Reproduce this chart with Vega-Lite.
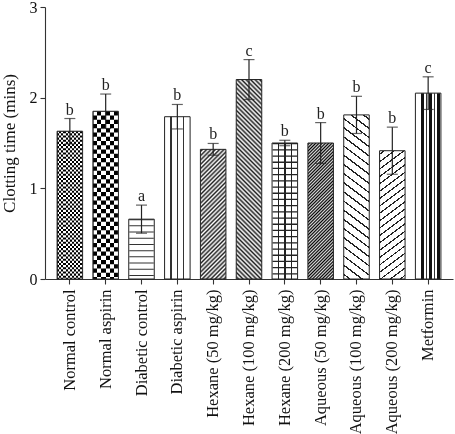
{
"$schema":"https://vega.github.io/schema/vega-lite/v6.json",
"width":408,"height":272,
"autosize":{"type":"none"},
"padding":{"left":45,"top":7,"right":2,"bottom":155},
"background":"white",
"config":{"view":{"stroke":null},
"axis":{"labelFont":"Liberation Serif","titleFont":"Liberation Serif","labelColor":"#111","titleColor":"#111","domainColor":"#333","tickColor":"#333","domainWidth":1.1,"tickWidth":1.1,"tickSize":5,"grid":false}},
"data":{"values":[
{"g":"Normal control","m":1.63,"lo":1.49,"hi":1.77,"lab":"b","p":"nc"},
{"g":"Normal aspirin","m":1.85,"lo":1.66,"hi":2.04,"lab":"b","p":"na"},
{"g":"Diabetic control","m":0.66,"lo":0.505,"hi":0.815,"lab":"a","p":"dc"},
{"g":"Diabetic aspirin","m":1.79,"lo":1.655,"hi":1.925,"lab":"b","p":"da"},
{"g":"Hexane (50 mg/kg)","m":1.43,"lo":1.365,"hi":1.495,"lab":"b","p":"h50"},
{"g":"Hexane (100 mg/kg)","m":2.2,"lo":1.98,"hi":2.42,"lab":"c","p":"h100"},
{"g":"Hexane (200 mg/kg)","m":1.5,"lo":1.47,"hi":1.53,"lab":"b","p":"h200"},
{"g":"Aqueous (50 mg/kg)","m":1.5,"lo":1.275,"hi":1.725,"lab":"b","p":"a50"},
{"g":"Aqueous (100 mg/kg)","m":1.81,"lo":1.605,"hi":2.015,"lab":"b","p":"a100"},
{"g":"Aqueous (200 mg/kg)","m":1.415,"lo":1.155,"hi":1.675,"lab":"b","p":"a200"},
{"g":"Metformin","m":2.05,"lo":1.87,"hi":2.23,"lab":"c","p":"met"}
]},
"encoding":{"x":{"field":"g","type":"nominal","sort":null,"scale":{"paddingInner":0.288,"paddingOuter":0.3375},
"axis":{"title":null,"labelAngle":-90,"labelFontSize":16.5,"labelPadding":5}}},
"layer":[
{"mark":{"type":"bar","fill":"white","strokeWidth":0},
"encoding":{"y":{"field":"m","type":"quantitative","scale":{"domain":[0,3]},"title":"Clotting time (mins)",
"axis":{"values":[0,1,2,3],"format":"d","labelFontSize":16,"titleFontSize":17,"titleFontWeight":"normal","labelPadding":3,"titlePadding":11}}}},

{"transform":[{"filter":"datum.p==='nc'"}],
"mark":{"type":"bar","strokeWidth":0,"fill":{"gradient":"linear","x1":0,"y1":0,"x2":1,"y2":0,"stops":[
{"offset":0,"color":"#000"},{"offset":0.0833,"color":"#000"},{"offset":0.0833,"color":"#fff"},{"offset":0.1667,"color":"#fff"},{"offset":0.1667,"color":"#000"},{"offset":0.25,"color":"#000"},{"offset":0.25,"color":"#fff"},{"offset":0.3333,"color":"#fff"},{"offset":0.3333,"color":"#000"},{"offset":0.4167,"color":"#000"},{"offset":0.4167,"color":"#fff"},{"offset":0.5,"color":"#fff"},{"offset":0.5,"color":"#000"},{"offset":0.5833,"color":"#000"},{"offset":0.5833,"color":"#fff"},{"offset":0.6667,"color":"#fff"},{"offset":0.6667,"color":"#000"},{"offset":0.75,"color":"#000"},{"offset":0.75,"color":"#fff"},{"offset":0.8333,"color":"#fff"},{"offset":0.8333,"color":"#000"},{"offset":0.9167,"color":"#000"},{"offset":0.9167,"color":"#fff"},{"offset":1,"color":"#fff"}]}},
"encoding":{"y":{"field":"m","type":"quantitative","title":"Clotting time (mins)"}}},
{"transform":[{"filter":"datum.p==='nc'"}],
"mark":{"type":"rule","stroke":"#fff","strokeWidth":24.5,"strokeCap":"butt","strokeDash":[2.125,2.125],"blend":"difference"},
"encoding":{"y":{"field":"m","type":"quantitative","title":"Clotting time (mins)"},"y2":{"datum":0}}},

{"transform":[{"filter":"datum.p==='na'"}],
"mark":{"type":"bar","strokeWidth":0,"fill":{"gradient":"linear","x1":0,"y1":0,"x2":1,"y2":0,"stops":[
{"offset":0,"color":"#000"},{"offset":0.1667,"color":"#000"},{"offset":0.1667,"color":"#fff"},{"offset":0.3333,"color":"#fff"},{"offset":0.3333,"color":"#000"},{"offset":0.5,"color":"#000"},{"offset":0.5,"color":"#fff"},{"offset":0.6667,"color":"#fff"},{"offset":0.6667,"color":"#000"},{"offset":0.8333,"color":"#000"},{"offset":0.8333,"color":"#fff"},{"offset":1,"color":"#fff"}]}},
"encoding":{"y":{"field":"m","type":"quantitative","title":"Clotting time (mins)"}}},
{"transform":[{"filter":"datum.p==='na'"}],
"mark":{"type":"rule","stroke":"#fff","strokeWidth":24.5,"strokeCap":"butt","strokeDash":[4.25,4.25],"blend":"difference"},
"encoding":{"y":{"field":"m","type":"quantitative","title":"Clotting time (mins)"},"y2":{"datum":0}}},

{"transform":[{"filter":"datum.p==='dc'"}],
"mark":{"type":"rule","stroke":"#333","strokeWidth":24.5,"strokeCap":"butt","strokeDash":[1,5.2]},
"encoding":{"y":{"field":"m","type":"quantitative","title":"Clotting time (mins)"},"y2":{"datum":0}}},

{"transform":[{"filter":"datum.p==='da'"}],
"mark":{"type":"bar","strokeWidth":0,"fill":{"gradient":"linear","x1":0,"y1":0,"x2":1,"y2":0,"stops":[
{"offset":0,"color":"#fff"},{"offset":0.228,"color":"#fff"},{"offset":0.228,"color":"#333"},{"offset":0.272,"color":"#333"},{"offset":0.272,"color":"#fff"},{"offset":0.478,"color":"#fff"},{"offset":0.478,"color":"#333"},{"offset":0.522,"color":"#333"},{"offset":0.522,"color":"#fff"},{"offset":0.728,"color":"#fff"},{"offset":0.728,"color":"#333"},{"offset":0.772,"color":"#333"},{"offset":0.772,"color":"#fff"},{"offset":1,"color":"#fff"}]}},
"encoding":{"y":{"field":"m","type":"quantitative","title":"Clotting time (mins)"}}},

{"transform":[{"filter":"datum.p==='h50'"}],
"mark":{"type":"bar","strokeWidth":0,"fill":{"gradient":"linear","x1":0,"y1":0,"x2":0.2267,"y2":1.15215,"stops":[
{"offset":0,"color":"#fff"},{"offset":0.0139,"color":"#222"},{"offset":0.0278,"color":"#fff"},{"offset":0.0417,"color":"#222"},{"offset":0.0556,"color":"#fff"},{"offset":0.0694,"color":"#222"},{"offset":0.0833,"color":"#fff"},{"offset":0.0972,"color":"#222"},{"offset":0.1111,"color":"#fff"},{"offset":0.125,"color":"#222"},{"offset":0.1389,"color":"#fff"},{"offset":0.1528,"color":"#222"},{"offset":0.1667,"color":"#fff"},{"offset":0.1806,"color":"#222"},{"offset":0.1944,"color":"#fff"},{"offset":0.2083,"color":"#222"},{"offset":0.2222,"color":"#fff"},{"offset":0.2361,"color":"#222"},{"offset":0.25,"color":"#fff"},{"offset":0.2639,"color":"#222"},{"offset":0.2778,"color":"#fff"},{"offset":0.2917,"color":"#222"},{"offset":0.3056,"color":"#fff"},{"offset":0.3194,"color":"#222"},{"offset":0.3333,"color":"#fff"},{"offset":0.3472,"color":"#222"},{"offset":0.3611,"color":"#fff"},{"offset":0.375,"color":"#222"},{"offset":0.3889,"color":"#fff"},{"offset":0.4028,"color":"#222"},{"offset":0.4167,"color":"#fff"},{"offset":0.4306,"color":"#222"},{"offset":0.4444,"color":"#fff"},{"offset":0.4583,"color":"#222"},{"offset":0.4722,"color":"#fff"},{"offset":0.4861,"color":"#222"},{"offset":0.5,"color":"#fff"},{"offset":0.5139,"color":"#222"},{"offset":0.5278,"color":"#fff"},{"offset":0.5417,"color":"#222"},{"offset":0.5556,"color":"#fff"},{"offset":0.5694,"color":"#222"},{"offset":0.5833,"color":"#fff"},{"offset":0.5972,"color":"#222"},{"offset":0.6111,"color":"#fff"},{"offset":0.625,"color":"#222"},{"offset":0.6389,"color":"#fff"},{"offset":0.6528,"color":"#222"},{"offset":0.6667,"color":"#fff"},{"offset":0.6806,"color":"#222"},{"offset":0.6944,"color":"#fff"},{"offset":0.7083,"color":"#222"},{"offset":0.7222,"color":"#fff"},{"offset":0.7361,"color":"#222"},{"offset":0.75,"color":"#fff"},{"offset":0.7639,"color":"#222"},{"offset":0.7778,"color":"#fff"},{"offset":0.7917,"color":"#222"},{"offset":0.8056,"color":"#fff"},{"offset":0.8194,"color":"#222"},{"offset":0.8333,"color":"#fff"},{"offset":0.8472,"color":"#222"},{"offset":0.8611,"color":"#fff"},{"offset":0.875,"color":"#222"},{"offset":0.8889,"color":"#fff"},{"offset":0.9028,"color":"#222"},{"offset":0.9167,"color":"#fff"},{"offset":0.9306,"color":"#222"},{"offset":0.9444,"color":"#fff"},{"offset":0.9583,"color":"#222"},{"offset":0.9722,"color":"#fff"},{"offset":0.9861,"color":"#222"},{"offset":1,"color":"#fff"}]}},
"encoding":{"y":{"field":"m","type":"quantitative","title":"Clotting time (mins)"}}},

{"transform":[{"filter":"datum.p==='h100'"}],
"mark":{"type":"bar","strokeWidth":0,"fill":{"gradient":"linear","x1":1,"y1":0,"x2":0.85808,"y2":1.10974,"stops":[
{"offset":0,"color":"#fff"},{"offset":0.01,"color":"#222"},{"offset":0.02,"color":"#fff"},{"offset":0.03,"color":"#222"},{"offset":0.04,"color":"#fff"},{"offset":0.05,"color":"#222"},{"offset":0.06,"color":"#fff"},{"offset":0.07,"color":"#222"},{"offset":0.08,"color":"#fff"},{"offset":0.09,"color":"#222"},{"offset":0.1,"color":"#fff"},{"offset":0.11,"color":"#222"},{"offset":0.12,"color":"#fff"},{"offset":0.13,"color":"#222"},{"offset":0.14,"color":"#fff"},{"offset":0.15,"color":"#222"},{"offset":0.16,"color":"#fff"},{"offset":0.17,"color":"#222"},{"offset":0.18,"color":"#fff"},{"offset":0.19,"color":"#222"},{"offset":0.2,"color":"#fff"},{"offset":0.21,"color":"#222"},{"offset":0.22,"color":"#fff"},{"offset":0.23,"color":"#222"},{"offset":0.24,"color":"#fff"},{"offset":0.25,"color":"#222"},{"offset":0.26,"color":"#fff"},{"offset":0.27,"color":"#222"},{"offset":0.28,"color":"#fff"},{"offset":0.29,"color":"#222"},{"offset":0.3,"color":"#fff"},{"offset":0.31,"color":"#222"},{"offset":0.32,"color":"#fff"},{"offset":0.33,"color":"#222"},{"offset":0.34,"color":"#fff"},{"offset":0.35,"color":"#222"},{"offset":0.36,"color":"#fff"},{"offset":0.37,"color":"#222"},{"offset":0.38,"color":"#fff"},{"offset":0.39,"color":"#222"},{"offset":0.4,"color":"#fff"},{"offset":0.41,"color":"#222"},{"offset":0.42,"color":"#fff"},{"offset":0.43,"color":"#222"},{"offset":0.44,"color":"#fff"},{"offset":0.45,"color":"#222"},{"offset":0.46,"color":"#fff"},{"offset":0.47,"color":"#222"},{"offset":0.48,"color":"#fff"},{"offset":0.49,"color":"#222"},{"offset":0.5,"color":"#fff"},{"offset":0.51,"color":"#222"},{"offset":0.52,"color":"#fff"},{"offset":0.53,"color":"#222"},{"offset":0.54,"color":"#fff"},{"offset":0.55,"color":"#222"},{"offset":0.56,"color":"#fff"},{"offset":0.57,"color":"#222"},{"offset":0.58,"color":"#fff"},{"offset":0.59,"color":"#222"},{"offset":0.6,"color":"#fff"},{"offset":0.61,"color":"#222"},{"offset":0.62,"color":"#fff"},{"offset":0.63,"color":"#222"},{"offset":0.64,"color":"#fff"},{"offset":0.65,"color":"#222"},{"offset":0.66,"color":"#fff"},{"offset":0.67,"color":"#222"},{"offset":0.68,"color":"#fff"},{"offset":0.69,"color":"#222"},{"offset":0.7,"color":"#fff"},{"offset":0.71,"color":"#222"},{"offset":0.72,"color":"#fff"},{"offset":0.73,"color":"#222"},{"offset":0.74,"color":"#fff"},{"offset":0.75,"color":"#222"},{"offset":0.76,"color":"#fff"},{"offset":0.77,"color":"#222"},{"offset":0.78,"color":"#fff"},{"offset":0.79,"color":"#222"},{"offset":0.8,"color":"#fff"},{"offset":0.81,"color":"#222"},{"offset":0.82,"color":"#fff"},{"offset":0.83,"color":"#222"},{"offset":0.84,"color":"#fff"},{"offset":0.85,"color":"#222"},{"offset":0.86,"color":"#fff"},{"offset":0.87,"color":"#222"},{"offset":0.88,"color":"#fff"},{"offset":0.89,"color":"#222"},{"offset":0.9,"color":"#fff"},{"offset":0.91,"color":"#222"},{"offset":0.92,"color":"#fff"},{"offset":0.93,"color":"#222"},{"offset":0.94,"color":"#fff"},{"offset":0.95,"color":"#222"},{"offset":0.96,"color":"#fff"},{"offset":0.97,"color":"#222"},{"offset":0.98,"color":"#fff"},{"offset":0.99,"color":"#222"},{"offset":1,"color":"#fff"}]}},
"encoding":{"y":{"field":"m","type":"quantitative","title":"Clotting time (mins)"}}},

{"transform":[{"filter":"datum.p==='h200'"}],
"mark":{"type":"bar","strokeWidth":0,"fill":{"gradient":"linear","x1":0,"y1":0,"x2":1,"y2":0,"stops":[
{"offset":0,"color":"#fff"},{"offset":0.2225,"color":"#fff"},{"offset":0.2225,"color":"#222"},{"offset":0.2775,"color":"#222"},{"offset":0.2775,"color":"#fff"},{"offset":0.4725,"color":"#fff"},{"offset":0.4725,"color":"#222"},{"offset":0.5275,"color":"#222"},{"offset":0.5275,"color":"#fff"},{"offset":0.7225,"color":"#fff"},{"offset":0.7225,"color":"#222"},{"offset":0.7775,"color":"#222"},{"offset":0.7775,"color":"#fff"},{"offset":1,"color":"#fff"}]}},
"encoding":{"y":{"field":"m","type":"quantitative","title":"Clotting time (mins)"}}},
{"transform":[{"filter":"datum.p==='h200'"}],
"mark":{"type":"rule","stroke":"#222","strokeWidth":24.5,"strokeCap":"butt","strokeDash":[1.3,4.9]},
"encoding":{"y":{"field":"m","type":"quantitative","title":"Clotting time (mins)"},"y2":{"datum":0}}},

{"transform":[{"filter":"datum.p==='a50'"}],
"mark":{"type":"bar","strokeWidth":0,"fill":{"gradient":"linear","x1":0,"y1":0,"x2":0.21518,"y2":1.14721,"stops":[
{"offset":0,"color":"#ddd"},{"offset":0.01,"color":"#000"},{"offset":0.02,"color":"#ddd"},{"offset":0.03,"color":"#000"},{"offset":0.04,"color":"#ddd"},{"offset":0.05,"color":"#000"},{"offset":0.06,"color":"#ddd"},{"offset":0.07,"color":"#000"},{"offset":0.08,"color":"#ddd"},{"offset":0.09,"color":"#000"},{"offset":0.1,"color":"#ddd"},{"offset":0.11,"color":"#000"},{"offset":0.12,"color":"#ddd"},{"offset":0.13,"color":"#000"},{"offset":0.14,"color":"#ddd"},{"offset":0.15,"color":"#000"},{"offset":0.16,"color":"#ddd"},{"offset":0.17,"color":"#000"},{"offset":0.18,"color":"#ddd"},{"offset":0.19,"color":"#000"},{"offset":0.2,"color":"#ddd"},{"offset":0.21,"color":"#000"},{"offset":0.22,"color":"#ddd"},{"offset":0.23,"color":"#000"},{"offset":0.24,"color":"#ddd"},{"offset":0.25,"color":"#000"},{"offset":0.26,"color":"#ddd"},{"offset":0.27,"color":"#000"},{"offset":0.28,"color":"#ddd"},{"offset":0.29,"color":"#000"},{"offset":0.3,"color":"#ddd"},{"offset":0.31,"color":"#000"},{"offset":0.32,"color":"#ddd"},{"offset":0.33,"color":"#000"},{"offset":0.34,"color":"#ddd"},{"offset":0.35,"color":"#000"},{"offset":0.36,"color":"#ddd"},{"offset":0.37,"color":"#000"},{"offset":0.38,"color":"#ddd"},{"offset":0.39,"color":"#000"},{"offset":0.4,"color":"#ddd"},{"offset":0.41,"color":"#000"},{"offset":0.42,"color":"#ddd"},{"offset":0.43,"color":"#000"},{"offset":0.44,"color":"#ddd"},{"offset":0.45,"color":"#000"},{"offset":0.46,"color":"#ddd"},{"offset":0.47,"color":"#000"},{"offset":0.48,"color":"#ddd"},{"offset":0.49,"color":"#000"},{"offset":0.5,"color":"#ddd"},{"offset":0.51,"color":"#000"},{"offset":0.52,"color":"#ddd"},{"offset":0.53,"color":"#000"},{"offset":0.54,"color":"#ddd"},{"offset":0.55,"color":"#000"},{"offset":0.56,"color":"#ddd"},{"offset":0.57,"color":"#000"},{"offset":0.58,"color":"#ddd"},{"offset":0.59,"color":"#000"},{"offset":0.6,"color":"#ddd"},{"offset":0.61,"color":"#000"},{"offset":0.62,"color":"#ddd"},{"offset":0.63,"color":"#000"},{"offset":0.64,"color":"#ddd"},{"offset":0.65,"color":"#000"},{"offset":0.66,"color":"#ddd"},{"offset":0.67,"color":"#000"},{"offset":0.68,"color":"#ddd"},{"offset":0.69,"color":"#000"},{"offset":0.7,"color":"#ddd"},{"offset":0.71,"color":"#000"},{"offset":0.72,"color":"#ddd"},{"offset":0.73,"color":"#000"},{"offset":0.74,"color":"#ddd"},{"offset":0.75,"color":"#000"},{"offset":0.76,"color":"#ddd"},{"offset":0.77,"color":"#000"},{"offset":0.78,"color":"#ddd"},{"offset":0.79,"color":"#000"},{"offset":0.8,"color":"#ddd"},{"offset":0.81,"color":"#000"},{"offset":0.82,"color":"#ddd"},{"offset":0.83,"color":"#000"},{"offset":0.84,"color":"#ddd"},{"offset":0.85,"color":"#000"},{"offset":0.86,"color":"#ddd"},{"offset":0.87,"color":"#000"},{"offset":0.88,"color":"#ddd"},{"offset":0.89,"color":"#000"},{"offset":0.9,"color":"#ddd"},{"offset":0.91,"color":"#000"},{"offset":0.92,"color":"#ddd"},{"offset":0.93,"color":"#000"},{"offset":0.94,"color":"#ddd"},{"offset":0.95,"color":"#000"},{"offset":0.96,"color":"#ddd"},{"offset":0.97,"color":"#000"},{"offset":0.98,"color":"#ddd"},{"offset":0.99,"color":"#000"},{"offset":1,"color":"#ddd"}]}},
"encoding":{"y":{"field":"m","type":"quantitative","title":"Clotting time (mins)"}}},

{"transform":[{"filter":"datum.p==='a100'"}],
"mark":{"type":"bar","strokeWidth":0,"fill":{"gradient":"linear","x1":1,"y1":0,"x2":0.87156,"y2":1.10162,"stops":[
{"offset":0,"color":"#fff"},
{"offset":0.02,"color":"#fff"},{"offset":0.02,"color":"#222"},{"offset":0.029,"color":"#222"},{"offset":0.029,"color":"#fff"},
{"offset":0.07,"color":"#fff"},{"offset":0.07,"color":"#222"},{"offset":0.079,"color":"#222"},{"offset":0.079,"color":"#fff"},
{"offset":0.12,"color":"#fff"},{"offset":0.12,"color":"#222"},{"offset":0.129,"color":"#222"},{"offset":0.129,"color":"#fff"},
{"offset":0.17,"color":"#fff"},{"offset":0.17,"color":"#222"},{"offset":0.179,"color":"#222"},{"offset":0.179,"color":"#fff"},
{"offset":0.22,"color":"#fff"},{"offset":0.22,"color":"#222"},{"offset":0.229,"color":"#222"},{"offset":0.229,"color":"#fff"},
{"offset":0.27,"color":"#fff"},{"offset":0.27,"color":"#222"},{"offset":0.279,"color":"#222"},{"offset":0.279,"color":"#fff"},
{"offset":0.32,"color":"#fff"},{"offset":0.32,"color":"#222"},{"offset":0.329,"color":"#222"},{"offset":0.329,"color":"#fff"},
{"offset":0.37,"color":"#fff"},{"offset":0.37,"color":"#222"},{"offset":0.379,"color":"#222"},{"offset":0.379,"color":"#fff"},
{"offset":0.42,"color":"#fff"},{"offset":0.42,"color":"#222"},{"offset":0.429,"color":"#222"},{"offset":0.429,"color":"#fff"},
{"offset":0.47,"color":"#fff"},{"offset":0.47,"color":"#222"},{"offset":0.479,"color":"#222"},{"offset":0.479,"color":"#fff"},
{"offset":0.52,"color":"#fff"},{"offset":0.52,"color":"#222"},{"offset":0.529,"color":"#222"},{"offset":0.529,"color":"#fff"},
{"offset":0.57,"color":"#fff"},{"offset":0.57,"color":"#222"},{"offset":0.579,"color":"#222"},{"offset":0.579,"color":"#fff"},
{"offset":0.62,"color":"#fff"},{"offset":0.62,"color":"#222"},{"offset":0.629,"color":"#222"},{"offset":0.629,"color":"#fff"},
{"offset":0.67,"color":"#fff"},{"offset":0.67,"color":"#222"},{"offset":0.679,"color":"#222"},{"offset":0.679,"color":"#fff"},
{"offset":0.72,"color":"#fff"},{"offset":0.72,"color":"#222"},{"offset":0.729,"color":"#222"},{"offset":0.729,"color":"#fff"},
{"offset":0.77,"color":"#fff"},{"offset":0.77,"color":"#222"},{"offset":0.779,"color":"#222"},{"offset":0.779,"color":"#fff"},
{"offset":0.82,"color":"#fff"},{"offset":0.82,"color":"#222"},{"offset":0.829,"color":"#222"},{"offset":0.829,"color":"#fff"},
{"offset":0.87,"color":"#fff"},{"offset":0.87,"color":"#222"},{"offset":0.879,"color":"#222"},{"offset":0.879,"color":"#fff"},
{"offset":0.92,"color":"#fff"},{"offset":0.92,"color":"#222"},{"offset":0.929,"color":"#222"},{"offset":0.929,"color":"#fff"},
{"offset":0.97,"color":"#fff"},{"offset":0.97,"color":"#222"},{"offset":0.979,"color":"#222"},{"offset":0.979,"color":"#fff"},
{"offset":1,"color":"#fff"}]}},
"encoding":{"y":{"field":"m","type":"quantitative","title":"Clotting time (mins)"}}},

{"transform":[{"filter":"datum.p==='a200'"}],
"mark":{"type":"bar","strokeWidth":0,"fill":{"gradient":"linear","x1":0,"y1":0,"x2":0.16763,"y2":1.12412,"stops":[
{"offset":0,"color":"#fff"},
{"offset":0.02,"color":"#fff"},{"offset":0.02,"color":"#222"},{"offset":0.03,"color":"#222"},{"offset":0.03,"color":"#fff"},
{"offset":0.07,"color":"#fff"},{"offset":0.07,"color":"#222"},{"offset":0.08,"color":"#222"},{"offset":0.08,"color":"#fff"},
{"offset":0.12,"color":"#fff"},{"offset":0.12,"color":"#222"},{"offset":0.13,"color":"#222"},{"offset":0.13,"color":"#fff"},
{"offset":0.17,"color":"#fff"},{"offset":0.17,"color":"#222"},{"offset":0.18,"color":"#222"},{"offset":0.18,"color":"#fff"},
{"offset":0.22,"color":"#fff"},{"offset":0.22,"color":"#222"},{"offset":0.23,"color":"#222"},{"offset":0.23,"color":"#fff"},
{"offset":0.27,"color":"#fff"},{"offset":0.27,"color":"#222"},{"offset":0.28,"color":"#222"},{"offset":0.28,"color":"#fff"},
{"offset":0.32,"color":"#fff"},{"offset":0.32,"color":"#222"},{"offset":0.33,"color":"#222"},{"offset":0.33,"color":"#fff"},
{"offset":0.37,"color":"#fff"},{"offset":0.37,"color":"#222"},{"offset":0.38,"color":"#222"},{"offset":0.38,"color":"#fff"},
{"offset":0.42,"color":"#fff"},{"offset":0.42,"color":"#222"},{"offset":0.43,"color":"#222"},{"offset":0.43,"color":"#fff"},
{"offset":0.47,"color":"#fff"},{"offset":0.47,"color":"#222"},{"offset":0.48,"color":"#222"},{"offset":0.48,"color":"#fff"},
{"offset":0.52,"color":"#fff"},{"offset":0.52,"color":"#222"},{"offset":0.53,"color":"#222"},{"offset":0.53,"color":"#fff"},
{"offset":0.57,"color":"#fff"},{"offset":0.57,"color":"#222"},{"offset":0.58,"color":"#222"},{"offset":0.58,"color":"#fff"},
{"offset":0.62,"color":"#fff"},{"offset":0.62,"color":"#222"},{"offset":0.63,"color":"#222"},{"offset":0.63,"color":"#fff"},
{"offset":0.67,"color":"#fff"},{"offset":0.67,"color":"#222"},{"offset":0.68,"color":"#222"},{"offset":0.68,"color":"#fff"},
{"offset":0.72,"color":"#fff"},{"offset":0.72,"color":"#222"},{"offset":0.73,"color":"#222"},{"offset":0.73,"color":"#fff"},
{"offset":0.77,"color":"#fff"},{"offset":0.77,"color":"#222"},{"offset":0.78,"color":"#222"},{"offset":0.78,"color":"#fff"},
{"offset":0.82,"color":"#fff"},{"offset":0.82,"color":"#222"},{"offset":0.83,"color":"#222"},{"offset":0.83,"color":"#fff"},
{"offset":0.87,"color":"#fff"},{"offset":0.87,"color":"#222"},{"offset":0.88,"color":"#222"},{"offset":0.88,"color":"#fff"},
{"offset":0.92,"color":"#fff"},{"offset":0.92,"color":"#222"},{"offset":0.93,"color":"#222"},{"offset":0.93,"color":"#fff"},
{"offset":0.97,"color":"#fff"},{"offset":0.97,"color":"#222"},{"offset":0.98,"color":"#222"},{"offset":0.98,"color":"#fff"},
{"offset":1,"color":"#fff"}]}},
"encoding":{"y":{"field":"m","type":"quantitative","title":"Clotting time (mins)"}}},

{"transform":[{"filter":"datum.p==='met'"}],
"mark":{"type":"bar","strokeWidth":0,"fill":{"gradient":"linear","x1":0,"y1":0,"x2":1,"y2":0,"stops":[
{"offset":0,"color":"#fff"},{"offset":0.22,"color":"#fff"},{"offset":0.22,"color":"#111"},{"offset":0.32,"color":"#111"},{"offset":0.32,"color":"#fff"},{"offset":0.41,"color":"#fff"},{"offset":0.41,"color":"#333"},{"offset":0.44,"color":"#333"},{"offset":0.44,"color":"#fff"},{"offset":0.54,"color":"#fff"},{"offset":0.54,"color":"#111"},{"offset":0.64,"color":"#111"},{"offset":0.64,"color":"#fff"},{"offset":0.74,"color":"#fff"},{"offset":0.74,"color":"#333"},{"offset":0.77,"color":"#333"},{"offset":0.77,"color":"#fff"},{"offset":0.86,"color":"#fff"},{"offset":0.86,"color":"#111"},{"offset":0.96,"color":"#111"},{"offset":0.96,"color":"#fff"},{"offset":1,"color":"#fff"}]}},
"encoding":{"y":{"field":"m","type":"quantitative","title":"Clotting time (mins)"}}},

{"mark":{"type":"bar","fill":null,"fillOpacity":0,"stroke":"#222","strokeWidth":1},
"encoding":{"y":{"field":"m","type":"quantitative","title":"Clotting time (mins)"}}},

{"mark":{"type":"rule","stroke":"#222","strokeWidth":1.2},
"encoding":{"y":{"field":"lo","type":"quantitative","title":"Clotting time (mins)"},"y2":{"field":"hi"}}},
{"mark":{"type":"tick","orient":"horizontal","size":11,"thickness":1.2,"color":"#222"},
"encoding":{"y":{"field":"hi","type":"quantitative","title":"Clotting time (mins)"}}},
{"mark":{"type":"tick","orient":"horizontal","size":11,"thickness":1.2,"color":"#222"},
"encoding":{"y":{"field":"lo","type":"quantitative","title":"Clotting time (mins)"}}},
{"mark":{"type":"text","font":"Liberation Serif","fontSize":16,"dy":-4,"baseline":"alphabetic","color":"#222"},
"encoding":{"y":{"field":"hi","type":"quantitative","title":"Clotting time (mins)"},"text":{"field":"lab"}}}
]
}
